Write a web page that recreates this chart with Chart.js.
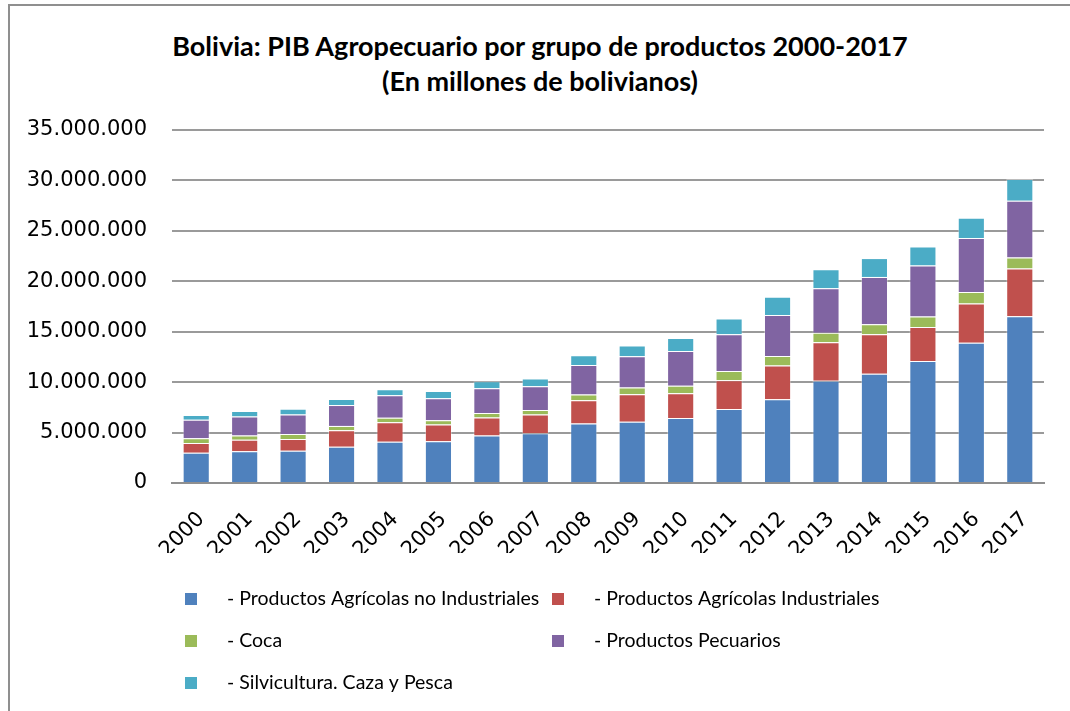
<!DOCTYPE html>
<html>
<head>
<meta charset="utf-8">
<script src="https://cdn.jsdelivr.net/npm/chart.js@4.4.1/dist/chart.umd.min.js"></script>
<style>
  html, body { margin: 0; padding: 0; background: #fff; }
  #wrap { position: relative; width: 1070px; height: 711px; overflow: hidden; }
  #frame { position: absolute; left: 8px; top: 4px; width: 1200px; height: 900px;
           border-left: 2px solid #8f8f8f; border-top: 2px solid #8f8f8f; }
  #chart { position: absolute; left: 0; top: 0; }
  #title { position: absolute; left: 0; top: 28px; width: 1080px; text-align: center;
           font: bold 27px/35px Lato, "Liberation Sans", sans-serif; color: #000; }
</style>
</head>
<body>
<div id="wrap">
  <div id="frame"></div>
  <div id="title">Bolivia: PIB Agropecuario por grupo de productos 2000-2017<br>(En millones de bolivianos)</div>
  <canvas id="chart" width="1070" height="711"></canvas>
</div>
<script>
// años y series (bolivianos)
const years = ['2000','2001','2002','2003','2004','2005','2006','2007','2008',
               '2009','2010','2011','2012','2013','2014','2015','2016','2017'];
const agricolasNoInd = [3000000, 3160000, 3200000, 3600000, 4100000, 4130000, 4700000, 4940000, 5900000,
                        6070000, 6440000, 7340000, 8300000, 10130000, 10830000, 12100000, 13900000, 16530000];
const agricolasInd   = [960000, 1140000, 1160000, 1630000, 1930000, 1670000, 1800000, 1860000, 2300000,
                        2730000, 2460000, 2860000, 3360000, 3830000, 3930000, 3360000, 3900000, 4730000];
const coca           = [470000, 400000, 500000, 430000, 430000, 430000, 440000, 440000, 570000,
                        670000, 740000, 900000, 940000, 940000, 970000, 1040000, 1130000, 1100000];
const pecuarios      = [1830000, 1900000, 1940000, 2070000, 2240000, 2170000, 2460000, 2360000, 2930000,
                        3100000, 3460000, 3650000, 4060000, 4400000, 4700000, 5060000, 5370000, 5630000];
const silvicultura   = [470000, 530000, 560000, 600000, 600000, 730000, 700000, 770000, 970000,
                        1070000, 1270000, 1550000, 1800000, 1900000, 1870000, 1900000, 2000000, 2140000];
const yTicks = [0, 5000000, 10000000, 15000000, 20000000, 25000000, 30000000, 35000000];

const fmt = v => String(v).replace(/\B(?=(\d{3})+(?!\d))/g, '.');

const mkSet = (label, data, color) => ({
  label, data, backgroundColor: color,
  borderColor: 'rgba(255,255,255,0.35)', borderWidth: 1,
  barPercentage: 0.56, categoryPercentage: 1
});

// leyenda en dos columnas, como en el original
const gridLegend = {
  id: 'gridLegend',
  afterDraw(chart) {
    const ctx = chart.ctx;
    ctx.save();
    ctx.font = '19.5px Lato, sans-serif';
    ctx.textBaseline = 'middle';
    chart.data.datasets.forEach((ds, i) => {
      const bx = i % 2 ? 552 : 185;
      const y = 599 + Math.floor(i / 2) * 42;
      ctx.fillStyle = ds.backgroundColor;
      ctx.fillRect(bx, y - 6, 12, 12);
      ctx.fillStyle = '#000';
      ctx.fillText(ds.label, bx + 42, y);
    });
    ctx.restore();
  }
};

new Chart(document.getElementById('chart'), {
  type: 'bar',
  data: {
    labels: years,
    datasets: [
      mkSet('- Productos Agrícolas no Industriales', agricolasNoInd, '#4F81BD'),
      mkSet('- Productos Agrícolas Industriales', agricolasInd, '#C0504D'),
      mkSet('- Coca', coca, '#9BBB59'),
      mkSet('- Productos Pecuarios', pecuarios, '#8064A2'),
      mkSet('- Silvicultura. Caza y Pesca', silvicultura, '#4BACC6')
    ]
  },
  plugins: [gridLegend],
  options: {
    responsive: false,
    animation: false,
    layout: { padding: { left: 0, right: 26, top: 130, bottom: 158 } },
    plugins: {
      legend: { display: false },
      tooltip: { enabled: false },
      title: { display: false }
    },
    scales: {
      x: {
        stacked: true,
        grid: { display: false },
        border: { display: true, color: '#8f8f8f', width: 2 },
        ticks: {
          color: '#000', minRotation: 45, maxRotation: 45, padding: 16, labelOffset: 5,
          font: { family: '"DejaVu Sans", sans-serif', size: 21 }
        },
        afterFit: s => { s.height = 70; }
      },
      y: {
        stacked: true,
        min: 0, max: 35000000,
        afterBuildTicks: s => { s.ticks = yTicks.map(v => ({ value: v })); },
        grid: { color: '#9a9a9a', lineWidth: 2, drawTicks: false },
        border: { display: false },
        ticks: {
          color: '#000', padding: 25,
          font: { family: '"DejaVu Sans", sans-serif', size: 21 },
          callback: v => fmt(v)
        },
        afterFit: s => { s.width = 172; }
      }
    }
  }
});
</script>
</body>
</html>
